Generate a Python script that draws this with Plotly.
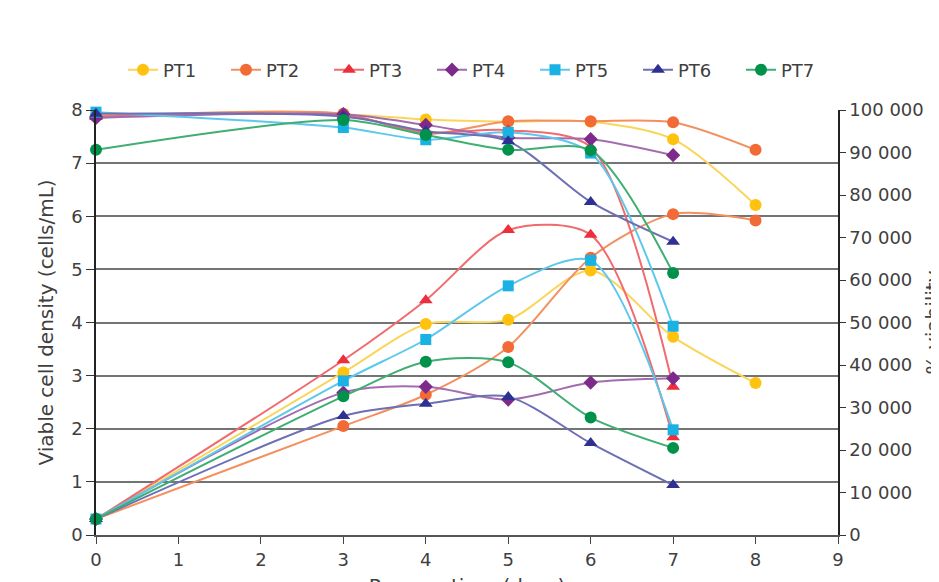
import plotly.graph_objects as go

# ---------------- data ----------------
series_names = ["PT1", "PT2", "PT3", "PT4", "PT5", "PT6", "PT7"]

days_pt1 = [0, 3, 4, 5, 6, 7, 8]
days_pt2 = [0, 3, 4, 5, 6, 7, 8]
days_pt3 = [0, 3, 4, 5, 6, 7]
days_pt4 = [0, 3, 4, 5, 6, 7]
days_pt5 = [0, 3, 4, 5, 6, 7]
days_pt6 = [0, 3, 4, 5, 6, 7]
days_pt7 = [0, 3, 4, 5, 6, 7]

# upper curves (viability, drawn in left-axis units)
viab_pt1 = [7.90, 7.92, 7.82, 7.78, 7.78, 7.45, 6.21]
viab_pt2 = [7.88, 7.93, 7.55, 7.79, 7.79, 7.77, 7.25]
viab_pt3 = [7.87, 7.90, 7.58, 7.62, 7.30, 2.79]
viab_pt4 = [7.85, 7.92, 7.72, 7.48, 7.45, 7.15]
viab_pt5 = [7.96, 7.67, 7.44, 7.58, 7.19, 3.93]
viab_pt6 = [7.93, 7.88, 7.60, 7.41, 6.27, 5.52]
viab_pt7 = [7.25, 7.81, 7.53, 7.25, 7.24, 4.93]

# lower curves (viable cell density)
dens_pt1 = [0.30, 3.06, 3.97, 4.05, 4.98, 3.73, 2.86]
dens_pt2 = [0.30, 2.05, 2.64, 3.54, 5.22, 6.04, 5.92]
dens_pt3 = [0.30, 3.29, 4.42, 5.74, 5.65, 1.84]
dens_pt4 = [0.30, 2.68, 2.79, 2.55, 2.87, 2.95]
dens_pt5 = [0.30, 2.90, 3.68, 4.69, 5.17, 1.98]
dens_pt6 = [0.30, 2.24, 2.47, 2.60, 1.73, 0.94]
dens_pt7 = [0.30, 2.61, 3.26, 3.25, 2.21, 1.64]

x_ticks = [0, 1, 2, 3, 4, 5, 6, 7, 8, 9]
left_ticks = [0, 1, 2, 3, 4, 5, 6, 7, 8]
right_tickvals = [0, 10000, 20000, 30000, 40000, 50000, 60000, 70000, 80000, 90000, 100000]
right_ticktext = ["0", "10 000", "20 000", "30 000", "40 000", "50 000",
                  "60 000", "70 000", "80 000", "90 000", "100 000"]

# ---------------- styling ----------------
marker_colors = ["#FFC20E", "#F26A36", "#EE2E3A", "#7D2B8B", "#1AB1E3", "#2E3192", "#00924A"]
line_colors = ["#FBD55A", "#F4905F", "#F06A6E", "#A46CB0", "#5CC8EC", "#6D6FB5", "#3FAE72"]
symbols = ["circle", "circle", "triangle-up", "diamond", "square", "triangle-up", "circle"]
sizes = [12, 12, 12, 11, 11, 12, 12]

days = [days_pt1, days_pt2, days_pt3, days_pt4, days_pt5, days_pt6, days_pt7]
viab = [viab_pt1, viab_pt2, viab_pt3, viab_pt4, viab_pt5, viab_pt6, viab_pt7]
dens = [dens_pt1, dens_pt2, dens_pt3, dens_pt4, dens_pt5, dens_pt6, dens_pt7]

FONT = "DejaVu Sans"
TXT = "#404040"
TICK_FONT = dict(family=FONT, size=18, color=TXT)

fig = go.Figure()

for i, name in enumerate(series_names):
    common = dict(
        mode="lines+markers",
        line=dict(color=line_colors[i], width=2, shape="spline", smoothing=0.8),
        marker=dict(color=marker_colors[i], symbol=symbols[i], size=sizes[i],
                    line=dict(width=0)),
        cliponaxis=False,
        legendgroup=name,
        name=name,
    )
    fig.add_trace(go.Scatter(x=days[i], y=dens[i], showlegend=True, **common))
    fig.add_trace(go.Scatter(x=days[i], y=viab[i], showlegend=False, **common))

# trace that carries the right-hand axis
fig.add_trace(go.Scatter(x=[x_ticks[0]], y=[right_tickvals[0]], yaxis="y2",
                         mode="markers", marker=dict(opacity=0), showlegend=False,
                         hoverinfo="skip"))

W, H = 960, 600
fig.update_layout(
    width=W, height=H,
    margin=dict(l=88, r=W - 88 - 742, t=102, b=H - 102 - 425, autoexpand=False),
    paper_bgcolor="white", plot_bgcolor="white",
    font=dict(family=FONT, size=17, color=TXT),
    legend=dict(
        orientation="h", xref="container", yref="container",
        x=115 / W, xanchor="left", y=1 - 62 / H, yanchor="middle",
        entrywidth=58, entrywidthmode="pixels",
        font=dict(family=FONT, size=18, color=TXT),
        itemwidth=30,
    ),
    xaxis=dict(
        range=[0, 9], tickvals=x_ticks, ticks="outside", ticklen=7, tickwidth=1,
        tickcolor="#444", showline=True, linecolor="#555", linewidth=2,
        showgrid=False, zeroline=False, tickfont=TICK_FONT,
        title=dict(text="Process time (days)", standoff=10),
        automargin=False,
    ),
    yaxis=dict(
        range=[0, 8], tickvals=left_ticks, ticks="outside", ticklen=8, tickwidth=1,
        tickcolor="#333", showline=True, linecolor="#222", linewidth=1.5,
        showgrid=True, gridcolor="#747474", gridwidth=2, zeroline=False,
        tickfont=TICK_FONT,
        title=dict(text="Viable cell density (cells/mL)", standoff=12),
        automargin=False,
    ),
    yaxis2=dict(
        range=[0, 100000], overlaying="y", side="right",
        tickvals=right_tickvals, ticktext=right_ticktext,
        ticks="outside", ticklen=6, tickwidth=1, tickcolor="#333",
        showline=True, linecolor="#222", linewidth=1.5,
        showgrid=False, zeroline=False, tickfont=TICK_FONT,
        title=dict(text="% viability", standoff=3),
        automargin=False,
    ),
)

fig.write_html("out.html")
